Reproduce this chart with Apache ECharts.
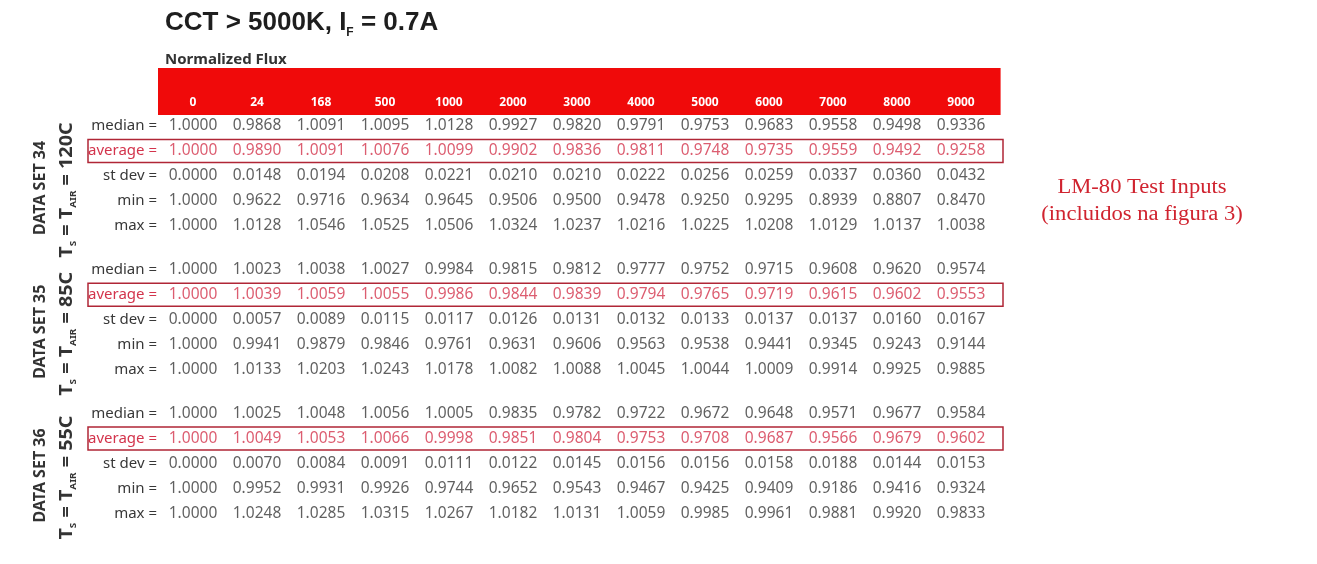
<!DOCTYPE html>
<html><head><meta charset="utf-8">
<script src="https://cdn.jsdelivr.net/npm/echarts@6/dist/echarts.min.js"></script>
<style>html,body{margin:0;padding:0;background:#fff}#c{width:1317px;height:564px}</style>
</head><body><div id="c"></div>
<script>
// ---- data ----
const hours = ['0','24','168','500','1000','2000','3000','4000','5000','6000','7000','8000','9000'];
const statLabels = ['median =','average =','st dev =','min =','max ='];
const dataSetNames = ['DATA SET 34','DATA SET 35','DATA SET 36'];
const dataSetTemps = ['120C','85C','55C'];

const ds34_median  = [1.0000,0.9868,1.0091,1.0095,1.0128,0.9927,0.9820,0.9791,0.9753,0.9683,0.9558,0.9498,0.9336];
const ds34_average = [1.0000,0.9890,1.0091,1.0076,1.0099,0.9902,0.9836,0.9811,0.9748,0.9735,0.9559,0.9492,0.9258];
const ds34_stdev   = [0.0000,0.0148,0.0194,0.0208,0.0221,0.0210,0.0210,0.0222,0.0256,0.0259,0.0337,0.0360,0.0432];
const ds34_min     = [1.0000,0.9622,0.9716,0.9634,0.9645,0.9506,0.9500,0.9478,0.9250,0.9295,0.8939,0.8807,0.8470];
const ds34_max     = [1.0000,1.0128,1.0546,1.0525,1.0506,1.0324,1.0237,1.0216,1.0225,1.0208,1.0129,1.0137,1.0038];

const ds35_median  = [1.0000,1.0023,1.0038,1.0027,0.9984,0.9815,0.9812,0.9777,0.9752,0.9715,0.9608,0.9620,0.9574];
const ds35_average = [1.0000,1.0039,1.0059,1.0055,0.9986,0.9844,0.9839,0.9794,0.9765,0.9719,0.9615,0.9602,0.9553];
const ds35_stdev   = [0.0000,0.0057,0.0089,0.0115,0.0117,0.0126,0.0131,0.0132,0.0133,0.0137,0.0137,0.0160,0.0167];
const ds35_min     = [1.0000,0.9941,0.9879,0.9846,0.9761,0.9631,0.9606,0.9563,0.9538,0.9441,0.9345,0.9243,0.9144];
const ds35_max     = [1.0000,1.0133,1.0203,1.0243,1.0178,1.0082,1.0088,1.0045,1.0044,1.0009,0.9914,0.9925,0.9885];

const ds36_median  = [1.0000,1.0025,1.0048,1.0056,1.0005,0.9835,0.9782,0.9722,0.9672,0.9648,0.9571,0.9677,0.9584];
const ds36_average = [1.0000,1.0049,1.0053,1.0066,0.9998,0.9851,0.9804,0.9753,0.9708,0.9687,0.9566,0.9679,0.9602];
const ds36_stdev   = [0.0000,0.0070,0.0084,0.0091,0.0111,0.0122,0.0145,0.0156,0.0156,0.0158,0.0188,0.0144,0.0153];
const ds36_min     = [1.0000,0.9952,0.9931,0.9926,0.9744,0.9652,0.9543,0.9467,0.9425,0.9409,0.9186,0.9416,0.9324];
const ds36_max     = [1.0000,1.0248,1.0285,1.0315,1.0267,1.0182,1.0131,1.0059,0.9985,0.9961,0.9881,0.9920,0.9833];

// ---- build ----
const sets = [
  [ds34_median, ds34_average, ds34_stdev, ds34_min, ds34_max],
  [ds35_median, ds35_average, ds35_stdev, ds35_min, ds35_max],
  [ds36_median, ds36_average, ds36_stdev, ds36_min, ds36_max]
];
// layout rule: fine row slots; each stat row every 4 slots, 7 slots between data sets
const ROW_STEP = 4, SET_STEP = 4 * ROW_STEP + 7, SLOT = 6.25;
const slotOf = (si, k) => si * SET_STEP + k * ROW_STEP;
const nSlots = slotOf(sets.length - 1, statLabels.length - 1) + 1;
const rowKeys = [];
for (let s = 0; s < nSlots; s++) rowKeys.push('s' + s);
sets.forEach((set, si) => statLabels.forEach((l, k) => { rowKeys[slotOf(si, k)] = si + '|' + k; }));

const normalData = [], avgData = [];
sets.forEach((set, si) => set.forEach((arr, k) => arr.forEach((v, ci) => {
  (k === 1 ? avgData : normalData).push([ci, slotOf(si, k), v]);
})));

const FONT = '"Noto Sans", sans-serif';
const GREY = '#383838';
const RED_TXT = '#d3344c';

const chart = echarts.init(document.getElementById('c'), null, {renderer: 'canvas'});
chart.setOption({
  animation: false,
  backgroundColor: '#fff',
  title: [{
    left: 160, top: 2,
    text: '{a|CCT > 5000K, I}{s|F}{a| = 0.7A}',
    textStyle: {
      rich: {
        a: {fontSize: 26, fontWeight: 'bold', fontFamily: '"Liberation Sans", sans-serif', color: '#1e1e1e', lineHeight: 32},
        s: {fontSize: 12, fontWeight: 'bold', fontFamily: '"Liberation Sans", sans-serif', color: '#1e1e1e', lineHeight: 14, verticalAlign: 'bottom'}
      }
    }
  }, {
    left: 160, top: 47,
    text: 'Normalized Flux',
    textStyle: {fontSize: 15, fontWeight: 'bold', fontFamily: FONT, color: '#333'}
  }],
  graphic: [{
    type: 'text', x: 1142, y: 201, scaleX: 1.13,
    style: {
      text: 'LM-80 Test Inputs\n(incluidos na figura 3)',
      align: 'center', verticalAlign: 'middle',
      font: '20px "Liberation Serif", serif', fill: '#d0232f', lineHeight: 27
    }
  }],
  grid: {left: 161, right: 324, top: 126 - SLOT / 2, height: nSlots * SLOT, containLabel: false},
  xAxis: {type: 'category', data: hours, show: false},
  yAxis: {
    type: 'category', inverse: true, data: rowKeys,
    axisLine: {show: false}, axisTick: {show: false}, splitLine: {show: false},
    axisLabel: {
      interval: 0, margin: 4, fontSize: 15, fontFamily: FONT,
      formatter: v => v.indexOf('|') >= 0 ? statLabels[+v.split('|')[1]] : '',
      color: v => (v.indexOf('|') >= 0 && v.split('|')[1] === '1') ? RED_TXT : GREY
    }
  },
  series: [{
    // header band with the hour labels
    type: 'custom', silent: true, clip: false, z: 1,
    data: hours.map((h, i) => [i, 0]),
    renderItem: (params, api) => {
      const i = api.value(0);
      const c = api.coord([i, 0]);
      const bw = api.size([1, 1])[0];
      let x0 = c[0] - bw / 2, x1 = c[0] + bw / 2 + 0.6;
      if (i === 0) x0 -= 3;
      if (i === hours.length - 1) x1 += 7;
      const top = c[1] - 58, bottom = c[1] - 11;
      return {type: 'group', children: [
        {type: 'rect', shape: {x: x0, y: top, width: x1 - x0, height: bottom - top}, style: {fill: '#f00a0a'}},
        {type: 'text', style: {text: hours[i], x: c[0], y: c[1] - 23, align: 'center', verticalAlign: 'middle',
          fill: '#fff', font: 'bold 12px ' + FONT}}
      ]};
    }
  }, {
    // boxes round the average rows
    type: 'custom', silent: true, clip: false, z: 3,
    data: sets.map((s, si) => [0, slotOf(si, 1)]),
    renderItem: (params, api) => {
      const row = api.value(1);
      const c0 = api.coord([0, row]);
      const c1 = api.coord([hours.length - 1, row]);
      const bw = api.size([1, 1])[0];
      const x0 = c0[0] - bw / 2 - 73, x1 = c1[0] + bw / 2 + 10;
      return {type: 'rect', shape: {x: x0, y: c0[1] - 11.5, width: x1 - x0, height: 23},
        style: {fill: 'none', stroke: '#b02636', lineWidth: 1.5}};
    }
  }, {
    // rotated data-set labels
    type: 'custom', silent: true, clip: false, z: 3,
    data: sets.map((s, si) => [0, slotOf(si, 2), si]),
    renderItem: (params, api) => {
      const si = api.value(2);
      const y = api.coord([0, api.value(1)])[1] + 12;
      return {type: 'group', children: [
        {type: 'text', x: 40, y: y, rotation: Math.PI / 2,
          style: {text: dataSetNames[si], align: 'center', verticalAlign: 'middle', fill: '#333',
            font: 'bold 16px ' + FONT}},
        {type: 'text', x: 67, y: y + 2, rotation: Math.PI / 2, scaleX: 1.1,
          style: {
            text: '{b|T}{s|S}{b| = T}{s|AIR}{b| = ' + dataSetTemps[si] + '}',
            align: 'center', verticalAlign: 'middle',
            rich: {
              b: {fontSize: 18, fontWeight: 'bold', fontFamily: FONT, fill: '#333', lineHeight: 21},
              s: {fontSize: 9, fontWeight: 'bold', fontFamily: FONT, fill: '#333', lineHeight: 10, verticalAlign: 'bottom'}
            }
          }}
      ]};
    }
  }, {
    type: 'scatter', silent: true, z: 4,
    symbol: 'rect', symbolSize: 1, itemStyle: {color: 'rgba(0,0,0,0)'},
    data: normalData,
    label: {show: true, position: 'inside', formatter: p => p.value[2].toFixed(4),
      color: GREY, fontSize: 15.5, fontFamily: FONT}
  }, {
    type: 'scatter', silent: true, z: 4,
    symbol: 'rect', symbolSize: 1, itemStyle: {color: 'rgba(0,0,0,0)'},
    data: avgData,
    label: {show: true, position: 'inside', formatter: p => p.value[2].toFixed(4),
      color: RED_TXT, fontSize: 15.5, fontFamily: FONT}
  }]
});
</script>
</body></html>
